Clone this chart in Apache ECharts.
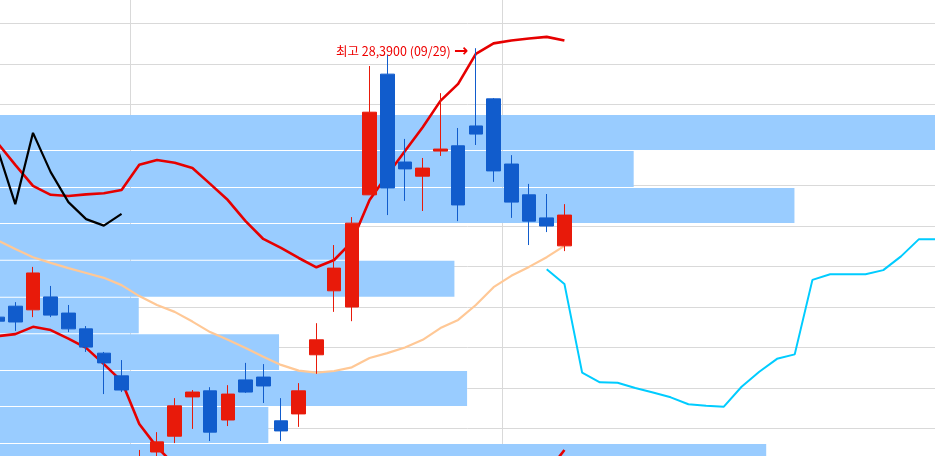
<!DOCTYPE html>
<html>
<head>
<meta charset="utf-8">
<script src="https://cdn.jsdelivr.net/npm/echarts@6/dist/echarts.min.js"></script>
<style>
html,body{margin:0;padding:0;background:#fff;}
#chart{width:935px;height:456px;}
</style>
</head>
<body>
<div id="chart"></div>
<script>
// ---- category dates (trading days + future days) ----
const dates = ['08/20','08/21','08/24','08/25','08/26','08/27','08/28','08/31',
  '09/01','09/02','09/03','09/04','09/08','09/09','09/10','09/11','09/14','09/15','09/16','09/17','09/18',
  '09/21','09/22','09/23','09/24','09/25','09/28','09/29','09/30',
  '10/01','10/02','10/05','10/06','10/07','10/08','10/09','10/12','10/13','10/14','10/15','10/16',
  '10/19','10/20','10/21','10/22','10/23','10/26','10/27','10/28','10/29','10/30',
  '11/02','11/03','11/04','11/05'];

// ---- candles ----
const opens  = [21.75,22.02,21.93,22.25,21.85,21.46,20.86,20.30,17.80,18.42,18.81,19.78,19.93,19.21,20.20,20.27,19.19,19.36,20.82,22.40,22.00,24.77,27.75,25.58,25.23,25.85,25.98,26.47,27.14,25.53,24.77,24.20,23.51];
const closes = [21.65,21.63,22.84,21.80,21.46,21.01,20.62,19.95,18.25,18.67,19.56,19.90,18.91,19.85,19.90,20.05,18.94,19.93,21.19,22.96,24.07,26.81,24.94,25.41,25.43,25.90,24.52,26.27,25.36,24.59,24.12,24.00,24.27];
const lows   = [21.60,21.41,21.75,21.75,21.38,20.89,19.85,19.90,17.60,18.22,18.64,18.99,18.69,19.06,19.88,19.63,18.69,19.04,20.35,21.88,21.65,24.77,24.27,24.62,24.37,25.73,24.12,26.00,25.09,24.20,23.53,23.85,23.38];
const highs  = [21.80,22.12,22.99,22.52,22.05,21.53,20.89,20.69,18.47,18.91,19.75,19.95,20.02,20.07,20.62,20.59,19.75,20.12,21.60,23.53,24.22,27.95,28.22,26.15,25.68,27.28,26.42,28.39,27.16,25.75,25.04,24.79,24.54];

// ---- lines ----
const upperBand = [26.05,25.51,24.99,24.77,24.74,24.78,24.81,24.89,25.51,25.63,25.56,25.43,25.04,24.64,24.12,23.68,23.46,23.21,22.98,23.16,23.61,24.64,25.26,25.85,26.44,27.09,27.51,28.25,28.51,28.58,28.63,28.67,28.58];
const midLine   = [23.65,23.43,23.23,23.09,22.96,22.84,22.72,22.54,22.27,22.05,21.88,21.64,21.38,21.19,20.99,20.77,20.57,20.43,20.38,20.42,20.51,20.74,20.86,21.00,21.19,21.48,21.68,22.05,22.49,22.77,22.99,23.23,23.51];
const lowerBand = [21.28,21.33,21.51,21.43,21.22,20.99,20.59,20.17,19.11,18.54,18.10,17.85,17.72,17.74,17.86,17.86,17.68,17.65,17.78,17.68,17.41,16.84,16.46,16.15,15.94,15.87,15.85,15.85,16.47,16.96,17.35,17.90,18.47];
const laggingLine = [25.90,24.54,26.30,25.33,24.59,24.17,24.01,24.30];
const leadStart = 31;
const leadingLine = [22.93,22.57,20.38,20.14,20.13,20.00,19.89,19.77,19.60,19.56,19.54,20.03,20.40,20.72,20.83,22.67,22.81,22.81,22.81,22.91,23.25,23.67,23.67,23.67];

// ---- volume profile ----
const profileLevels  = [26.74,25.85,24.94,24.05,23.14,22.23,21.33,20.42,19.53,18.62,17.72];
const profileVolumes = [100,66.2,82.7,37.2,47.8,15.4,29.8,49.1,28.7,79.8];

// ---- annotation ----
const highIndex = 27;
const highLabel = '최고 28,3900 (09/29)';
const highArrow = '→';

const candleData = opens.map((o,i)=>[o, closes[i], lows[i], highs[i]]);
const profileData = profileVolumes.map((v,i)=>[v, profileLevels[i], profileLevels[i+1]]);
const leadData = leadingLine.map((v,i)=>[leadStart+i, v]);

const RED = '#E81A0A', BLUE = '#115CCC';
const chart = echarts.init(document.getElementById('chart'), null, {renderer:'canvas'});
chart.setOption({
  animation:false,
  backgroundColor:'#ffffff',
  grid:{left:-11.3, top:-17, width:974.3, height:607.5, containLabel:false, outerBoundsMode:'none'},
  xAxis:[{
    type:'category', data:dates, boundaryGap:true,
    axisLine:{show:false}, axisTick:{show:false}, axisLabel:{show:false},
    splitLine:{show:true, lineStyle:{color:'#D9D9D9', width:1},
      interval:function(i){ return i>0 && i<opens.length && dates[i].slice(0,2)!==dates[i-1].slice(0,2); }}
  },{
    type:'value', min:0, max:100, show:false, splitLine:{show:false}
  }],
  yAxis:[{
    type:'value', min:15, max:30, interval:1,
    axisLine:{show:false}, axisTick:{show:false}, axisLabel:{show:false},
    splitLine:{show:true, lineStyle:{color:'#D9D9D9', width:1}}
  }],
  series:[
    {
      type:'custom', xAxisIndex:1, yAxisIndex:0, z:1, silent:true,
      encode:{x:0, y:[1,2]},
      data:profileData,
      renderItem:function(params, api){
        const p0 = api.coord([0, api.value(1)]);
        const p1 = api.coord([api.value(0), api.value(2)]);
        return {type:'rect', shape:{x:p0[0], y:p0[1], width:p1[0]-p0[0], height:p1[1]-p0[1]-1},
          style:{fill:'#99CCFF'}};
      }
    },
    {type:'line', data:midLine, symbol:'none', z:3, lineStyle:{color:'#FFC896', width:2.2}},
    {type:'line', data:upperBand, symbol:'none', z:3, lineStyle:{color:'#E60000', width:2.6}},
    {type:'line', data:lowerBand, symbol:'none', z:3, lineStyle:{color:'#E60000', width:2.6}},
    {type:'line', data:laggingLine, symbol:'none', z:4, lineStyle:{color:'#000000', width:2.2}},
    {type:'line', data:leadData, symbol:'none', z:3, lineStyle:{color:'#00CCFF', width:2}},
    {
      type:'candlestick', data:candleData, barWidth:14, z:5,
      itemStyle:{color:RED, color0:BLUE, borderColor:RED, borderColor0:BLUE, borderWidth:1},
      markPoint:{
        symbol:'circle', symbolSize:1, silent:true,
        itemStyle:{color:'rgba(0,0,0,0)'},
        label:{show:true, position:'left', distance:7, offset:[0,3],
          formatter:'{t|' + highLabel + '} {a|' + highArrow + '}',
          rich:{
            t:{color:'#EE0000', fontSize:12.5, fontFamily:'Noto Sans CJK KR'},
            a:{color:'#EE0000', fontSize:17, fontWeight:'bold', fontFamily:'DejaVu Sans'}
          }},
        data:[{coord:[highIndex, highs[highIndex]], value:highs[highIndex]}]
      }
    }
  ]
});
</script>
</body>
</html>
